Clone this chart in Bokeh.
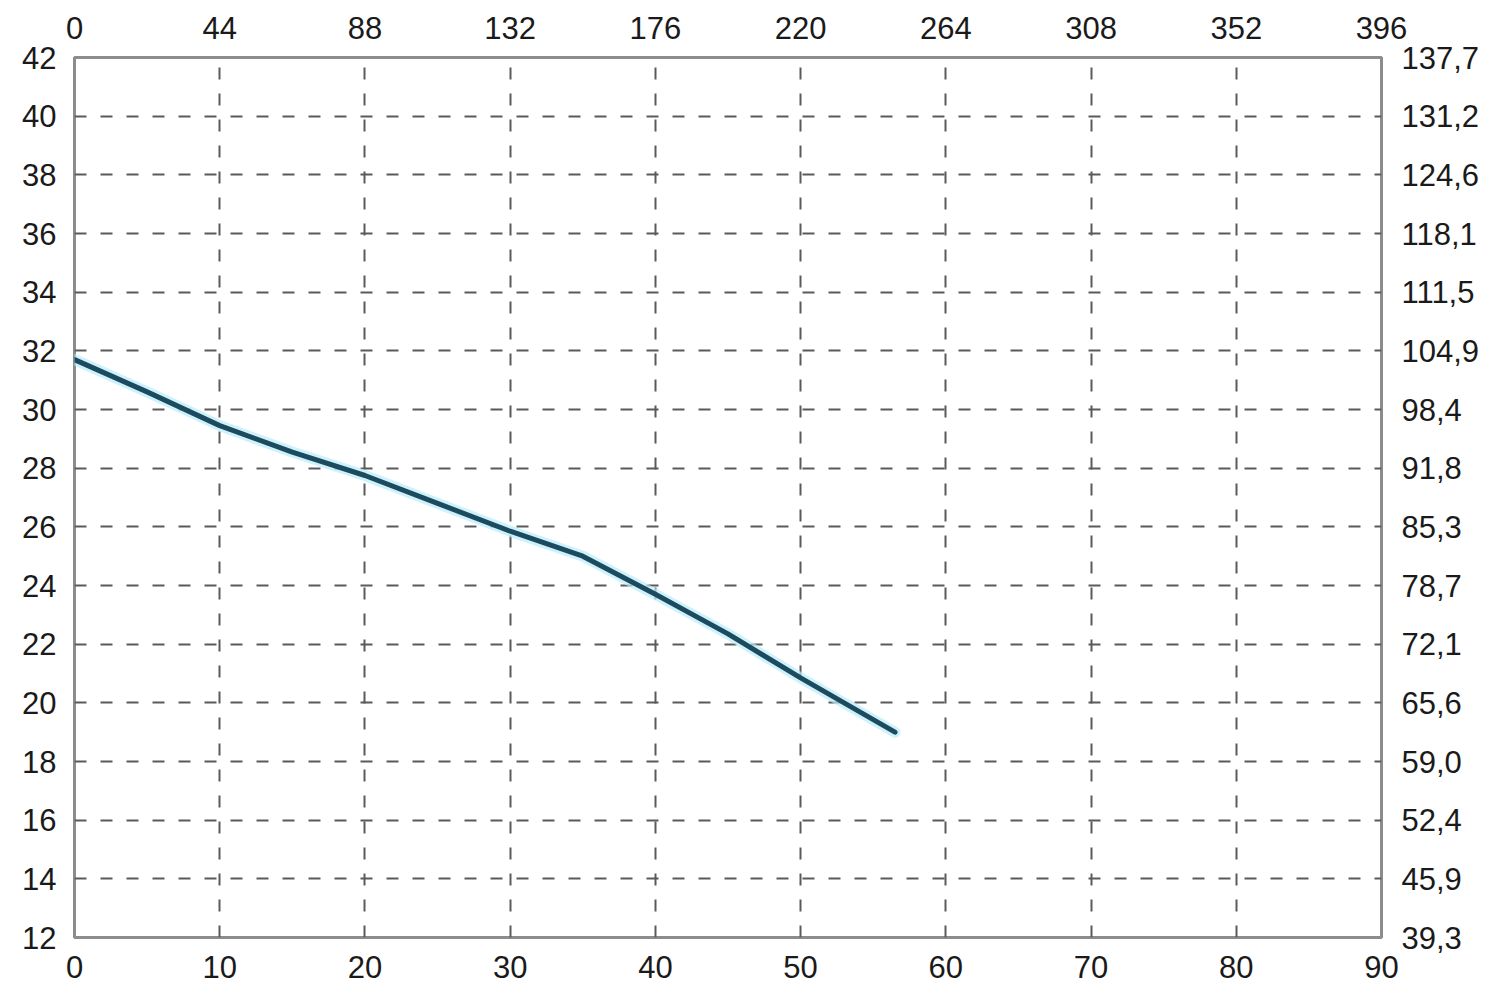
from bokeh.plotting import figure
from bokeh.models import LinearAxis, FixedTicker, Range1d
from bokeh.embed import file_html
from bokeh.resources import INLINE

# Data
flow = [0, 5, 10, 15, 20, 25, 30, 35, 40, 45, 50, 56.5]
head = [31.7, 30.6, 29.45, 28.55, 27.75, 26.8, 25.85, 25.0, 23.7, 22.35, 20.85, 19.0]

bottom_ticks = [0, 10, 20, 30, 40, 50, 60, 70, 80, 90]
top_labels = ["0", "44", "88", "132", "176", "220", "264", "308", "352", "396"]
left_ticks = [12, 14, 16, 18, 20, 22, 24, 26, 28, 30, 32, 34, 36, 38, 40, 42]
right_labels = ["39,3", "45,9", "52,4", "59,0", "65,6", "72,1", "78,7", "85,3",
                "91,8", "98,4", "104,9", "111,5", "118,1", "124,6", "131,2", "137,7"]

FONT = "Liberation Sans"
FS = "31px"
TXT = "#1a1a1a"

p = figure(width=1482, height=992, output_backend="svg", toolbar_location=None,
           x_range=Range1d(0, 90), y_range=Range1d(12, 42),
           min_border_left=74, min_border_right=101, min_border_top=57, min_border_bottom=55,
           x_axis_location="below", y_axis_location="left")

p.outline_line_color = "#8c8c8c"
p.outline_line_width = 3
p.background_fill_color = "white"
p.border_fill_color = "white"

for g in (p.xgrid, p.ygrid):
    g.grid_line_color = "#5a5a5a"
    g.grid_line_width = 2
    g.grid_line_dash = "12 14"
p.xgrid.ticker = FixedTicker(ticks=bottom_ticks)
p.ygrid.ticker = FixedTicker(ticks=left_ticks)

def style(ax, standoff):
    ax.axis_line_color = None
    ax.major_tick_line_color = None
    ax.minor_tick_line_color = None
    ax.major_tick_in = 0
    ax.major_tick_out = 0
    ax.minor_tick_in = 0
    ax.minor_tick_out = 0
    ax.major_label_text_font = FONT
    ax.major_label_text_font_size = FS
    ax.major_label_text_color = TXT
    ax.major_label_standoff = standoff

p.xaxis.ticker = FixedTicker(ticks=bottom_ticks)
p.yaxis.ticker = FixedTicker(ticks=left_ticks)
style(p.xaxis[0], 18)
style(p.yaxis[0], 18)

top = LinearAxis(ticker=FixedTicker(ticks=bottom_ticks),
                 major_label_overrides={t: l for t, l in zip(bottom_ticks, top_labels)})
style(top, 19)
p.add_layout(top, "above")

right = LinearAxis(ticker=FixedTicker(ticks=left_ticks),
                   major_label_overrides={t: l for t, l in zip(left_ticks, right_labels)})
style(right, 20)
p.add_layout(right, "right")

# glow + curve
p.line(flow, head, line_color="#b8ecfa", line_width=11, line_alpha=0.7, line_cap="round",
       line_join="round")
p.line(flow, head, line_color="#1c4a5e", line_width=5, line_cap="round", line_join="round")

open("out.html", "w").write(file_html(p, INLINE))
